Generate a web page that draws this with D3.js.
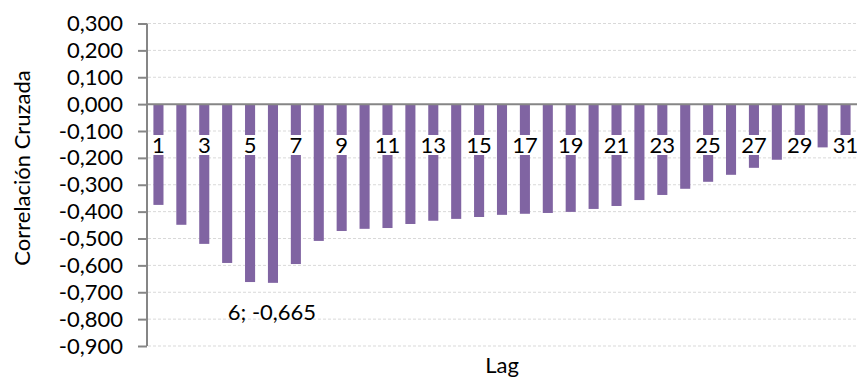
<!DOCTYPE html>
<html><head><meta charset="utf-8">
<script src="https://cdn.jsdelivr.net/npm/d3@7"></script>
<style>
html,body{margin:0;padding:0;background:#fff;}
svg text{font-family:Lato,"Open Sans",sans-serif;fill:#000;}
</style></head>
<body>
<svg id="chart" width="857" height="379"></svg>
<script>
const lags = d3.range(1, 32);
const values = [-0.375,-0.449,-0.520,-0.591,-0.662,-0.665,-0.595,-0.509,-0.472,-0.464,
  -0.461,-0.446,-0.434,-0.427,-0.420,-0.412,-0.408,-0.405,-0.401,-0.390,
  -0.379,-0.357,-0.338,-0.315,-0.289,-0.263,-0.237,-0.207,-0.185,-0.161,-0.140];
const yTicks = [0.3,0.2,0.1,0,-0.1,-0.2,-0.3,-0.4,-0.5,-0.6,-0.7,-0.8,-0.9];
const xLabels = [1,3,5,7,9,11,13,15,17,19,21,23,25,27,29,31];
const yTitle = "Correlación Cruzada";
const xTitle = "Lag";
const annotation = {lag: 6, text: "6; -0,665"};

const svg = d3.select("#chart");
const fs = 22;
const font = "Lato";
const x = d3.scaleBand().domain(lags).range([147, 857]).paddingInner(0.56).paddingOuter(0.28);
const y = d3.scaleLinear().domain([-0.9, 0.3]).range([346, 23.5]);
const fmt = v => d3.format(".3f")(v).replace("−","-").replace(".", ",");

// gridlines
svg.append("g").selectAll("line").data(yTicks.filter(t => t !== 0)).join("line")
  .attr("x1", 148).attr("x2", 857)
  .attr("y1", d => y(d)).attr("y2", d => y(d))
  .attr("stroke", "#d9d9d9").attr("stroke-width", 1).attr("stroke-dasharray", "3,2");

// y axis
const yAxis = d3.axisLeft(y).tickValues(yTicks).tickSize(9).tickPadding(15).tickFormat(fmt);
const gy = svg.append("g").attr("transform", "translate(147,0)").call(yAxis);
gy.select(".domain").attr("stroke", "#868686").attr("stroke-width", 2).attr("d", `M0,${y(0.3)}V${y(-0.9)}`);
gy.selectAll(".tick line").attr("stroke", "#868686").attr("stroke-width", 2);
gy.selectAll(".tick text").attr("font-size", fs).attr("font-family", font).attr("fill", "#000");

// bars
svg.append("g").selectAll("rect").data(lags).join("rect")
  .attr("x", d => x(d)).attr("width", x.bandwidth())
  .attr("y", y(0)).attr("height", (d, i) => y(values[i]) - y(0))
  .attr("fill", "#8064a2");

// zero axis line
svg.append("line").attr("x1", 146).attr("x2", 857).attr("y1", y(0)).attr("y2", y(0))
  .attr("stroke", "#868686").attr("stroke-width", 2);

// category labels with white background
const lg = svg.append("g");
xLabels.forEach(l => {
  const cx = x(l) + x.bandwidth() / 2;
  const t = lg.append("text").attr("x", cx).attr("y", 145).attr("dy", "0.35em")
    .attr("text-anchor", "middle").attr("font-size", fs).text(l);
  const bb = t.node().getBBox();
  lg.insert("rect", () => t.node()).attr("x", bb.x).attr("y", 135).attr("width", bb.width).attr("height", 20).attr("fill", "#fff");
});

// annotation
svg.append("text").attr("x", x(annotation.lag) + x.bandwidth()/2 - 1).attr("y", 312.5).attr("dy", "0.35em")
  .attr("text-anchor", "middle").attr("font-size", fs).text(annotation.text);

// titles
svg.append("text").attr("transform", `translate(30,168) rotate(-90)`).attr("text-anchor", "middle")
  .attr("font-size", fs).text(yTitle);
svg.append("text").attr("x", 502).attr("y", 373).attr("text-anchor", "middle").attr("font-size", fs).text(xTitle);
</script>
</body></html>
